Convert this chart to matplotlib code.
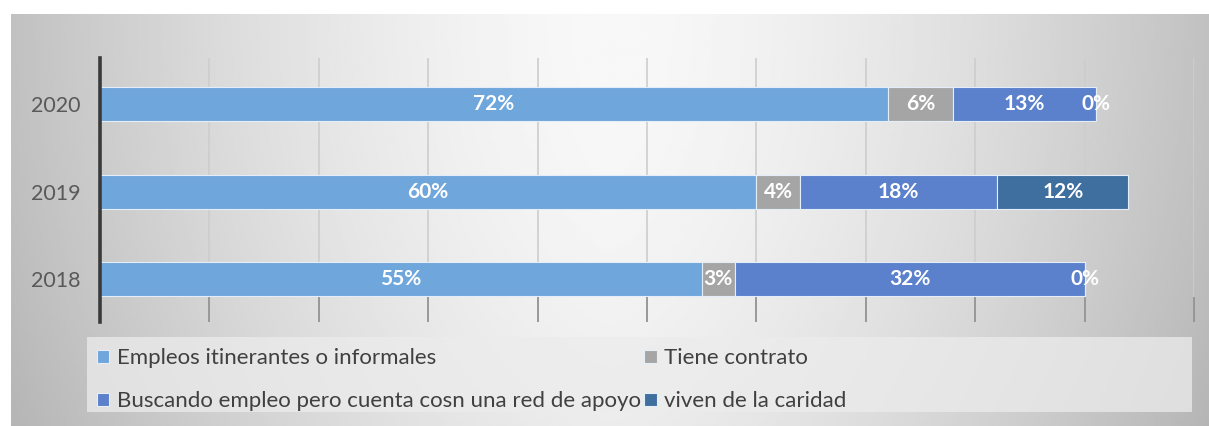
import matplotlib.pyplot as plt
import numpy as np
from matplotlib import ticker
from matplotlib.patches import Rectangle

years = ["2018", "2019", "2020"]
empleos = [55, 60, 72]
contrato = [3, 4, 6]
buscando = [32, 18, 13]
caridad = [0, 12, 0]

series_names = [
    "Empleos itinerantes o informales",
    "Tiene contrato",
    "Buscando empleo pero cuenta cosn una red de apoyo",
    "viven de la caridad",
]
series_values = [empleos, contrato, buscando, caridad]
colors = ["#6fa6db", "#a5a5a5", "#5b80cc", "#3f6f9f"]

W, H = 1209, 426
fig = plt.figure(figsize=(W / 100, H / 100), dpi=100)
fig.patch.set_facecolor("white")

# gray radial-ish background like the office chart style
bg = fig.add_axes([11 / W, 0, 1 - 11 / W, (H - 14) / H], zorder=-5)
gx = np.linspace(-1, 1, 400)
gy = np.linspace(0, 1, 150)
XX, YY = np.meshgrid(gx, gy)
shade = 248 - 55 * np.abs(XX) ** 1.5 - 12 * YY ** 2
bg.imshow(shade, cmap="gray", vmin=0, vmax=255, aspect="auto",
          extent=[0, 1, 0, 1], origin="upper")
bg.set_axis_off()

ax = fig.add_axes([100 / W, (H - 322) / H, 1094 / W, 264 / H])
ax.patch.set_alpha(0)

y = np.arange(len(years))
left = np.zeros(len(years))
handles = []
for name, vals, col in zip(series_names, series_values, colors):
    bars = ax.barh(y, vals, left=left, height=0.39, color=col,
                   edgecolor="#e4eef8", linewidth=0.8, label=name, zorder=3)
    ax.bar_label(bars, labels=[f"{v}%" for v in vals], label_type="center",
                 color="white", fontsize=15, fontweight="bold",
                 family="Lato", zorder=4)
    handles.append(bars)
    left = left + np.array(vals)

ax.set_xlim(0, 100)
ax.set_ylim(-0.49, 2.53)
ax.set_yticks(y)
ax.set_yticklabels(years, fontsize=15.5, color="#595959", family="Lato")
ax.xaxis.set_major_locator(ticker.MultipleLocator(10))
ax.set_xticklabels([])
ax.tick_params(axis="x", direction="in", length=18, width=1.2,
               color="#8f8f8f", bottom=True)
ax.tick_params(axis="y", length=0, pad=14)
ax.grid(visible=True, axis="x", color="#cdcdcd", linewidth=1.2)
ax.set_axisbelow(True)
for s in ["top", "right", "bottom"]:
    ax.spines[s].set_visible(False)
ax.spines["left"].set_color("#3a3a3a")
ax.spines["left"].set_linewidth(2.6)
ax.spines["left"].set_zorder(5)

# legend box
fig.patches.append(Rectangle((87 / W, (H - 412) / H), (1192 - 87) / W, 75 / H,
                             transform=fig.transFigure, facecolor="#ececec",
                             alpha=0.75, edgecolor="none", zorder=0))
order = [0, 2, 1, 3]
leg = fig.legend([handles[i] for i in order], [series_names[i] for i in order],
                 ncol=2, loc="upper left", bbox_to_anchor=(86 / W, (H - 337) / H),
                 frameon=False, handlelength=0.55, handleheight=0.55,
                 handletextpad=0.35, labelspacing=1.05, columnspacing=0.15,
                 borderpad=0, prop={"family": "Lato", "size": 16})
for t in leg.get_texts():
    t.set_color("#404040")

fig.savefig("out.png", dpi=100)
